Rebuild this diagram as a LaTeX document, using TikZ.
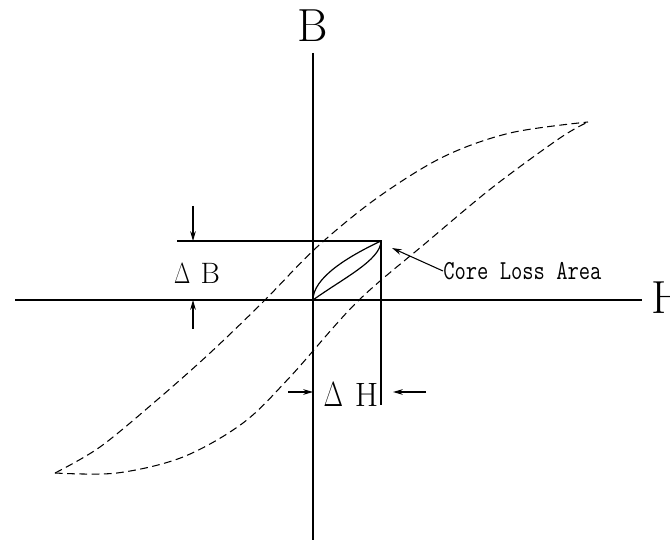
\documentclass[tikz,border=0pt]{standalone}
\usepackage{fontspec}
\usepackage{graphicx}
\usetikzlibrary{arrows.meta, positioning}
\newcommand{\thinDelta}{\scalebox{0.72}[1]{$\Delta$}}
\tikzset{
  axisline/.style={line width=1.0pt, black},
  guideline/.style={line width=0.85pt, black},
  loopcurve/.style={line width=0.75pt, dash pattern=on 5.5pt off 3.2pt},
  minorloop/.style={line width=0.85pt},
  dimarrow/.style={-{Stealth[length=7pt, width=4pt]}, line width=0.75pt},
  axislabel/.style={font=\fontsize{33}{36}\selectfont, inner sep=0pt},
  deltalabel/.style={font=\fontsize{21}{24}\selectfont, inner sep=0pt},
  notelabel/.style={font=\ttfamily\fontsize{19.5}{21}\selectfont, inner sep=0pt}
}

\begin{document}
\begin{tikzpicture}[x=0.025cm, y=-0.025cm]

  \useasboundingbox (0,0) rectangle (670,543);

  % axes
  \coordinate (O) at (313,300);
  \coordinate (hleft) at (15,300);
  \coordinate (hright) at (642,300);
  \coordinate (vtop) at (313,53);
  \coordinate (vbot) at (313,540);
  \draw[axisline] (hleft) -- (hright);
  \draw[axisline] (vtop) -- (vbot);
  \node[axislabel] (Blab) at (313,26) {B};
  \node[axislabel, anchor=west] (Hlab) at (651,298) {H};

  % major loop
  \draw[loopcurve] plot[smooth, tension=0.55] coordinates {
    (55,473) (100,447) (157,400) (210,353) (263,302) (317,247)
    (377,198) (443,157) (510,133) (588,122)};
  \draw[loopcurve] plot[smooth, tension=0.55] coordinates {
    (55,473) (117,473) (183,457) (243,423) (290,377) (357,302)
    (427,242) (493,187) (560,138) (588,122)};

  % minor loop and its box
  \coordinate (C) at (381,241);
  \coordinate (boxleft) at (177,241);
  \coordinate (boxbot) at (381,405);
  \draw[guideline] (boxleft) -- (C) -- (boxbot);
  \draw[minorloop] (O) .. controls (313,278) and (347,257) .. (C);
  \draw[minorloop] (O) .. controls (342,279) and (381,260) .. (C);

  % delta B
  \coordinate (dBtop) at (193,206);
  \coordinate (dBtopend) at (193,241);
  \coordinate (dBbot) at (193,329);
  \coordinate (dBbotend) at (193,300);
  \draw[dimarrow] (dBtop) -- (dBtopend);
  \draw[dimarrow] (dBbot) -- (dBbotend);
  \node[deltalabel] (dBlab) at (197,273) {\thinDelta\hspace{0.35em}B};

  % delta H
  \coordinate (dHleft) at (288,392);
  \coordinate (dHleftend) at (313,392);
  \coordinate (dHright) at (426,392);
  \coordinate (dHrightend) at (393,392);
  \draw[dimarrow] (dHleft) -- (dHleftend);
  \draw[dimarrow] (dHright) -- (dHrightend);
  \node[deltalabel, font=\fontsize{24}{27}\selectfont] (dHlab) at (351,395)
    {\thinDelta\hspace{0.35em}H};

  % core loss note
  \coordinate (coretip) at (392,248);
  \node[notelabel, anchor=west] (core) at (443,271)
    {\scalebox{0.8}[1]{Core Loss Area}};
  \draw[dimarrow] (core.west) -- (coretip);

\end{tikzpicture}
\end{document}
